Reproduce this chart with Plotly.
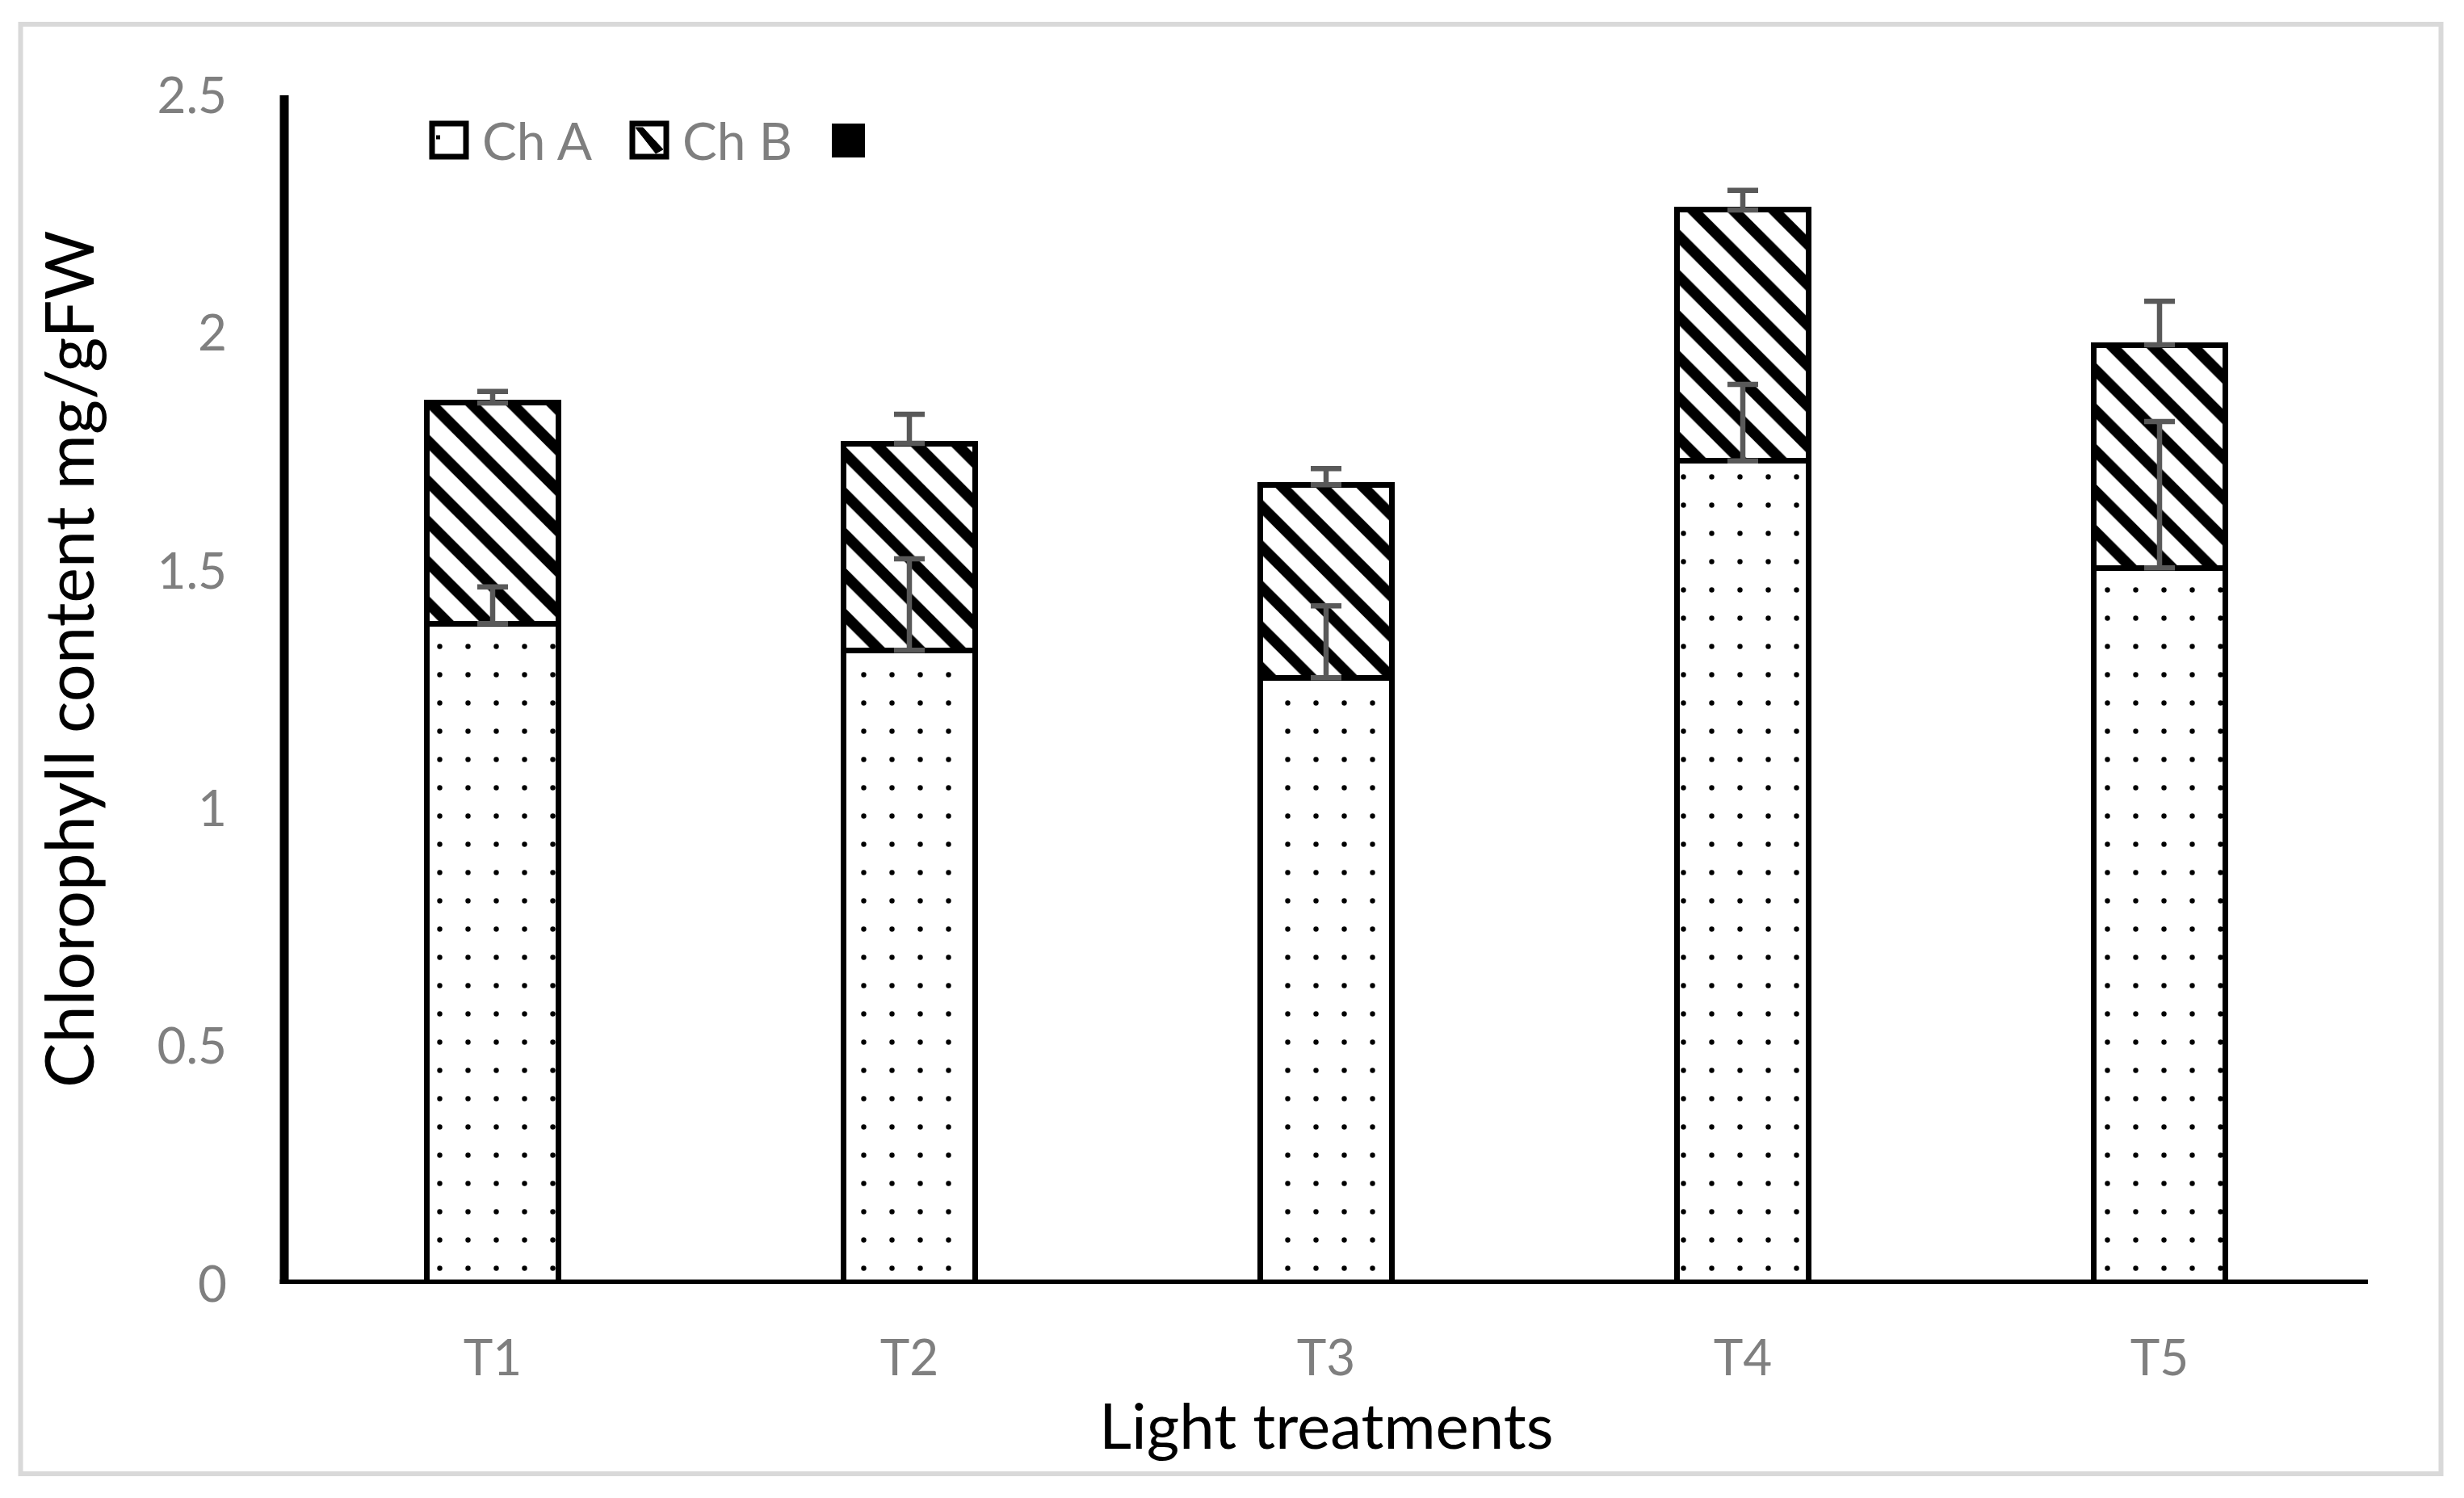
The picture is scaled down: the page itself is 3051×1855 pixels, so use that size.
import plotly.graph_objects as go

# ---- data ----
categories = ["T1", "T2", "T3", "T4", "T5"]
ch_a = [1.389, 1.333, 1.275, 1.731, 1.506]
ch_b = [0.464, 0.435, 0.406, 0.528, 0.469]
err_a = [0.077, 0.192, 0.151, 0.161, 0.308]
err_b = [0.024, 0.061, 0.034, 0.041, 0.092]
y_ticks = [0, 0.5, 1, 1.5, 2, 2.5]
y_ticklabels = ["0", "0.5", "1", "1.5", "2", "2.5"]
legend_names = ["Ch A", "Ch B"]
x_title = "Light treatments"
y_title = "Chlorophyll content mg/gFW"

# ---- layout geometry (pixels) ----
W, H = 3051, 1855
L, R, T, B = 352, 2932, 118, 1590
PW, PH = R - L, B - T


def px(x):
    return (x - L) / PW


def py(y):
    return (B - y) / PH


FONT = "Lato"
GRAY = "#7f7f7f"

totals = [a + b for a, b in zip(ch_a, ch_b)]

fig = go.Figure()
fig.add_trace(go.Bar(
    x=categories, y=ch_a, name=legend_names[0],
    marker=dict(color="white", line=dict(color="black", width=7),
                pattern=dict(shape=".", size=35, solidity=0.026,
                             fgcolor="black", bgcolor="white", fillmode="replace")),
    showlegend=False,
))
fig.add_trace(go.Bar(
    x=categories, y=ch_b, name=legend_names[1],
    marker=dict(color="white", line=dict(color="black", width=7),
                pattern=dict(shape="\\", size=35.4, solidity=0.38,
                             fgcolor="black", bgcolor="white", fillmode="replace")),
    showlegend=False,
))
# error bars drawn on top of the bars
fig.add_trace(go.Scatter(
    x=categories, y=ch_a, mode="markers", marker=dict(size=0.1, color="rgba(0,0,0,0)"),
    error_y=dict(type="data", symmetric=False, array=err_a, arrayminus=[0] * len(err_a),
                 color="#595959", thickness=6.5, width=19),
    showlegend=False, hoverinfo="skip",
))
fig.add_trace(go.Scatter(
    x=categories, y=totals, mode="markers", marker=dict(size=0.1, color="rgba(0,0,0,0)"),
    error_y=dict(type="data", symmetric=False, array=err_b, arrayminus=[0] * len(err_b),
                 color="#595959", thickness=6.5, width=19),
    showlegend=False, hoverinfo="skip",
))

shapes = []
# outer chart frame
shapes.append(dict(type="rect", xref="paper", yref="paper",
                   x0=px(25.5), x1=px(3022.5), y0=py(1825), y1=py(30),
                   line=dict(color="#d9d9d9", width=6), layer="below"))
# axis lines
shapes.append(dict(type="line", xref="paper", yref="y", x0=px(346.5), x1=1, y0=0, y1=0,
                   line=dict(color="black", width=11)))
shapes.append(dict(type="line", xref="paper", yref="y", x0=0, x1=0, y0=0, y1=2.5,
                   line=dict(color="black", width=11)))
# manual legend symbols
shapes.append(dict(type="rect", xref="paper", yref="paper",
                   x0=px(535), x1=px(577), y0=py(194), y1=py(153),
                   line=dict(color="black", width=7), fillcolor="white"))
shapes.append(dict(type="line", xref="paper", yref="paper",
                   x0=px(540), x1=px(545), y0=py(170), y1=py(170),
                   line=dict(color="black", width=5)))
shapes.append(dict(type="rect", xref="paper", yref="paper",
                   x0=px(783), x1=px(825), y0=py(194), y1=py(153),
                   line=dict(color="black", width=7), fillcolor="white"))
shapes.append(dict(type="path", xref="paper", yref="paper",
                   path="M {x0},{y0} L {x1},{y1} L {x2},{y2} L {x3},{y3} Z".format(
                       x0=px(787), y0=py(158), x1=px(796), y1=py(158),
                       x2=px(821), y2=py(185), x3=px(812), y3=py(190)),
                   line=dict(color="black", width=1), fillcolor="black"))
shapes.append(dict(type="rect", xref="paper", yref="paper",
                   x0=px(1030), x1=px(1071), y0=py(195), y1=py(153),
                   line=dict(color="black", width=0), fillcolor="black"))

annotations = [
    dict(text=legend_names[0], xref="paper", yref="paper", x=px(595), y=py(174),
         xanchor="left", yanchor="middle", showarrow=False,
         font=dict(family=FONT, size=64, color=GRAY)),
    dict(text=legend_names[1], xref="paper", yref="paper", x=px(843), y=py(174),
         xanchor="left", yanchor="middle", showarrow=False,
         font=dict(family=FONT, size=64, color=GRAY)),
    dict(text=x_title, xref="paper", yref="paper", x=0.5, y=py(1764),
         xanchor="center", yanchor="middle", showarrow=False,
         font=dict(family=FONT, size=78, color="black")),
    dict(text=y_title, xref="paper", yref="paper", x=px(84), y=py(817),
         xanchor="center", yanchor="middle", showarrow=False, textangle=-90,
         font=dict(family=FONT, size=83, color="black")),
]

fig.update_layout(
    width=W, height=H,
    margin=dict(l=L, r=W - R, t=T, b=H - B, pad=0),
    paper_bgcolor="white", plot_bgcolor="white",
    barmode="stack", bargap=0.686,
    showlegend=False,
    shapes=shapes, annotations=annotations,
    xaxis=dict(type="category", range=[-0.5, 4.5], showgrid=False, zeroline=False,
               showline=False, ticks="", ticklabelstandoff=50,
               tickfont=dict(family=FONT, size=62, color=GRAY)),
    yaxis=dict(range=[0, 2.5], tickvals=y_ticks, ticktext=y_ticklabels,
               showgrid=False, zeroline=False, showline=False, ticks="",
               ticklabelstandoff=70,
               tickfont=dict(family=FONT, size=62, color=GRAY)),
)

fig.write_html("out.html", config={"displayModeBar": False},
               post_script="document.body.style.margin='0';")
